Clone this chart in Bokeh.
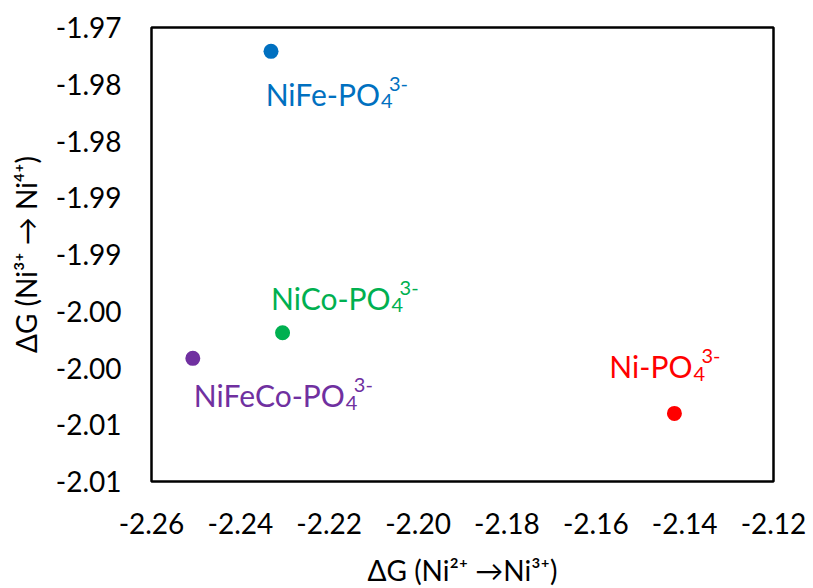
from bokeh.plotting import figure
from bokeh.models import Range1d, FixedTicker, CustomJSTickFormatter, ColumnDataSource
from bokeh.core.properties import value
from bokeh.embed import file_html
from bokeh.resources import INLINE

# ---------------- data ----------------
names = ["NiFe", "NiCo", "NiFeCo", "Ni"]
dg_2_to_3 = [-2.2331, -2.2305, -2.2507, -2.1423]
dg_3_to_4 = [-1.9721, -1.9969, -1.99915, -2.0040]
colors = ["#0070C0", "#00B050", "#7030A0", "#FF0000"]

x_ticks = [-2.26, -2.24, -2.22, -2.20, -2.18, -2.16, -2.14, -2.12]
x_tick_labels = ["-2.26", "-2.24", "-2.22", "-2.20", "-2.18", "-2.16", "-2.14", "-2.12"]
y_ticks = [-2.010, -2.005, -2.000, -1.995, -1.990, -1.985, -1.980, -1.975, -1.970]
y_tick_labels = ["-2.01", "-2.01", "-2.00", "-2.00", "-1.99", "-1.99", "-1.98", "-1.98", "-1.97"]

x_title = "ΔG (Ni²⁺ →Ni³⁺)"
y_title = "ΔG (Ni³⁺ → Ni⁴⁺)"

# ---------------- layout / style ----------------
FONT = "Lato"
MAIN = 30
SMALL = 20

# label placement (pixels from point): junction before subscript, baseline
label_dx = [109, 108, 152, 18]
label_dy = [42.5, -35, 37, -47]

p = figure(frame_width=622, frame_height=454,
           x_range=Range1d(-2.26, -2.12), y_range=Range1d(-2.01, -1.97),
           output_backend="svg", toolbar_location=None,
           min_border_left=151, min_border_right=36,
           min_border_top=27, min_border_bottom=104)
p.background_fill_color = "white"
p.border_fill_color = "white"
p.xgrid.visible = False
p.ygrid.visible = False
p.outline_line_color = "black"
p.outline_line_width = 2.5

def fmt(tick_values, tick_texts):
    return CustomJSTickFormatter(args=dict(tvals=tick_values, tlabels=tick_texts), code="""
        let best = 0;
        for (let k = 1; k < tvals.length; k++) {
            if (Math.abs(tvals[k] - tick) < Math.abs(tvals[best] - tick)) best = k;
        }
        return tlabels[best];
    """)

p.xaxis.ticker = FixedTicker(ticks=x_ticks)
p.xaxis.formatter = fmt(x_ticks, x_tick_labels)
p.yaxis.ticker = FixedTicker(ticks=y_ticks)
p.yaxis.formatter = fmt(y_ticks, y_tick_labels)
for ax in (p.xaxis[0], p.yaxis[0]):
    ax.axis_line_color = None
    ax.major_tick_line_color = None
    ax.minor_tick_line_color = None
    ax.major_tick_out = 0
    ax.major_tick_in = 0
    ax.major_label_text_font = FONT
    ax.major_label_text_font_size = "28px"
    ax.major_label_text_color = "black"
    ax.axis_label_text_font = FONT
    ax.axis_label_text_font_size = "28px"
    ax.axis_label_text_font_style = "normal"
    ax.axis_label_text_color = "black"
p.xaxis[0].axis_label = x_title
p.yaxis[0].axis_label = y_title
p.yaxis[0].major_label_standoff = 30
p.xaxis[0].major_label_standoff = 31
p.xaxis[0].axis_label_standoff = 16
p.yaxis[0].axis_label_standoff = 10

src = ColumnDataSource(dict(
    x=dg_2_to_3, y=dg_3_to_4, color=colors,
    main=[n + "-PO" for n in names],
    sub=["4"] * len(names), sup=["3-"] * len(names),
    dx=label_dx, dy=label_dy,
    dx_sub=[d + 1 for d in label_dx], dy_sub=[d + 7.5 for d in label_dy],
    dx_sup=[d + 9 for d in label_dx], dy_sup=[d - 10 for d in label_dy],
))

p.scatter("x", "y", source=src, size=15, fill_color="color", line_color=None, marker="circle")
p.text("x", "y", text="main", source=src, x_offset="dx", y_offset="dy",
       text_align="right", text_baseline="alphabetic", text_color="color",
       text_font=value(FONT), text_font_size=f"{MAIN}px")
p.text("x", "y", text="sub", source=src, x_offset="dx_sub", y_offset="dy_sub",
       text_align="left", text_baseline="alphabetic", text_color="color",
       text_font=value(FONT), text_font_size=f"{SMALL}px")
p.text("x", "y", text="sup", source=src, x_offset="dx_sup", y_offset="dy_sup",
       text_align="left", text_baseline="alphabetic", text_color="color",
       text_font=value(FONT), text_font_size=f"{SMALL}px")

open("out.html", "w").write(file_html(p, INLINE))
